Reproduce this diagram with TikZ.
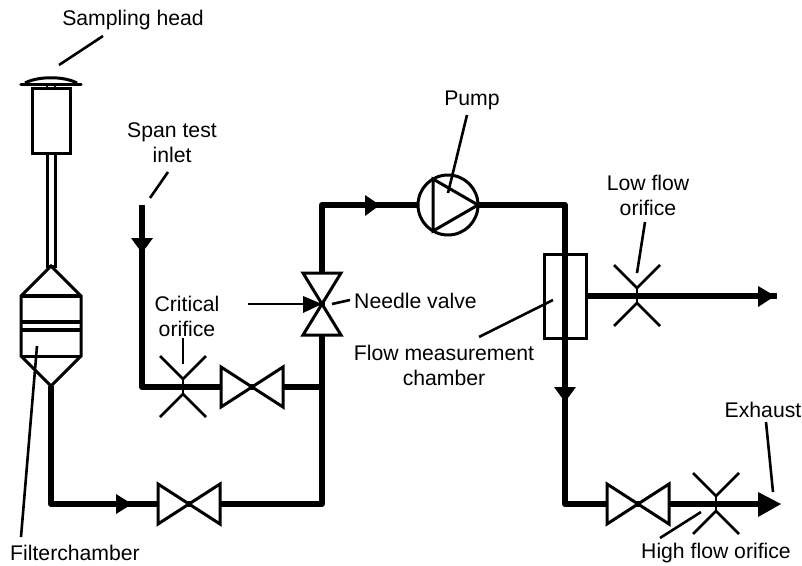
\documentclass[tikz,border=0pt]{standalone}
\usepackage{fontspec}
\setmainfont{Liberation Sans}
\tikzset{
  pipe/.style={line width=6pt,line join=round,draw=black},
  thin box/.style={line width=3pt,line join=miter,draw=black,fill=white},
  lead/.style={line width=2.6pt,draw=black},
  orif/.style={line width=2.6pt,draw=black},
  lab/.style={font=\fontsize{21.2}{25}\selectfont,align=center,inner sep=0pt,text=black},
  tip/.style={fill=black,draw=none},
}
\newcommand{\valveh}[2]{\draw[thin box] (#1-31,#2-20) -- (#1+31,#2+20) -- (#1+31,#2-20) -- (#1-31,#2+20) -- cycle;}
\newcommand{\orifice}[2]{%
  \draw[orif] (#1-23,#2-31) -- (#1,#2-8) -- (#1+23,#2-31);
  \draw[orif] (#1-23,#2+30) -- (#1,#2+7) -- (#1+23,#2+30);
  \draw[line width=1.2pt] (#1,#2-8) -- (#1,#2+7);}
\begin{document}
\begin{tikzpicture}[x=1pt,y=-1pt]
\useasboundingbox (0,0) rectangle (802,565);
\fill[white] (0,0) rectangle (802,565);
% named points
\coordinate (fb) at (51,386);
\coordinate (c1) at (51,504);
\coordinate (c2) at (322,504);
\coordinate (c3) at (322,205);
\coordinate (c4) at (565,205);
\coordinate (c5) at (565,504);
\coordinate (ex) at (760,504);
\coordinate (lo1) at (586,296);
\coordinate (lo2) at (777,296);
\coordinate (s1) at (142,205);
\coordinate (s2) at (142,387);
\coordinate (s3) at (322,387);
% pipes
\draw[pipe] (fb) -- (c1) -- (c2) -- (c3) -- (c4) -- (c5) -- (ex);
\draw[pipe] (s1) -- (s2) -- (s3);
\draw[pipe] (lo1) -- (lo2);
% sampling head
\draw[line width=3.2pt,line cap=round] (21,84.5) -- (81,84.5);
\draw[line width=3pt] (25,83) .. controls (38,76) and (64,76) .. (77,83);
\draw[line width=2pt] (47,85) -- (47,88) (55,85) -- (55,88);
\draw[thin box] (32,88) rectangle (70,153);
\draw[thin box] (47.5,153) rectangle (55,266);
\draw[thin box] (51,266) -- (81,296) -- (81,356) -- (51,386) -- (21,356) -- (21,296) -- cycle;
\draw[line width=3.5pt] (21,296) -- (81,296);
\draw[line width=3.5pt] (21,322) -- (81,322);
\draw[line width=3.5pt] (21,330) -- (81,330);
\draw[line width=3pt] (21,356) -- (81,356);
% valves
\valveh{189}{504}
\valveh{252}{387}
\valveh{638}{504}
\draw[thin box] (303,273) -- (341,273) -- (303,335) -- (341,335) -- cycle;
% orifices
\orifice{183}{387}
\orifice{637}{296}
\orifice{716}{504}
% pump
\draw[line width=3pt,fill=white] (448,205) circle (30);
\draw[line width=3pt,line join=miter] (433,179) -- (478,205) -- (433,231) -- cycle;
% chamber
\draw[line width=3pt] (544,254) rectangle (586,338);
% flow arrows
\fill[tip] (116,494) -- (132,504) -- (116,514) -- cycle;
\fill[tip] (365,195) -- (380,205) -- (365,216) -- cycle;
\fill[tip] (131,238) -- (153,238) -- (142,253) -- cycle;
\fill[tip] (554,387) -- (576,387) -- (565,402) -- cycle;
\fill[tip] (758,286) -- (775,296) -- (758,307) -- cycle;
\fill[tip] (758,492) -- (781,504) -- (758,517) -- cycle;
\fill[tip] (303,296) -- (322,304) -- (303,313) -- cycle;
% leaders
\draw[lead] (248,304) -- (310,304);
\draw[lead] (59,65) -- (103,36);
\draw[lead] (150,198) -- (168,172);
\draw[lead] (21,537) -- (37,346);
\draw[lead] (183,338) -- (183,364);
\draw[lead] (332,304) -- (350,300);
\draw[lead] (467,115) -- (448,193);
\draw[lead] (645,222) -- (637,273);
\draw[lead] (479,337) -- (553,300);
\draw[lead] (660,538) -- (701,512);
\draw[lead] (766,422) -- (773,492);
% labels
\node[lab] (n1) at (133,20) {Sampling head};
\node[lab] (n2) at (172,143) {Span test\\[0pt]inlet};
\node[lab] (n3) at (187,316) {Critical\\[0pt]orifice};
\node[lab] (n4) at (75,553) {Filterchamber};
\node[lab,anchor=west] (n5) at (354,301) {Needle valve};
\node[lab] (n6) at (472,100) {Pump};
\node[lab] (n7) at (648,195) {Low flow\\[0pt]orifice};
\node[lab] (n8) at (444,365) {Flow measurement\\[0pt]chamber};
\node[lab] (n9) at (763,410) {Exhaust};
\node[lab] (n10) at (716,553) {High flow orifice};
\end{tikzpicture}
\end{document}
